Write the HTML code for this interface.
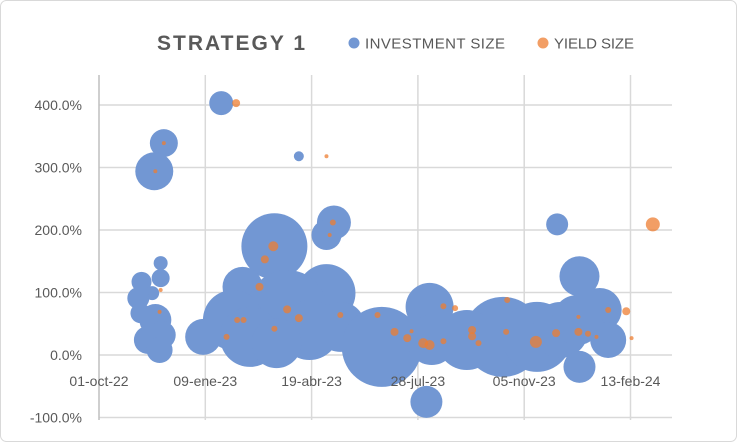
<!DOCTYPE html>
<html><head><meta charset="utf-8"><style>
body{margin:0;background:#fff;}
#wrap{width:737px;height:442px;position:relative;overflow:hidden;}
svg text{font-family:"Liberation Sans",sans-serif;}
</style></head><body>
<div id="wrap">
<svg id="chart" width="737" height="442">
<rect x="0.5" y="0.5" width="736" height="441" rx="6" fill="#fff" stroke="#D9D9D9"/>
<text x="157" y="50" font-size="21" font-weight="bold" fill="#595959" textLength="148">STRATEGY 1</text>
<g>
<g><circle cx="354" cy="43" r="5.5" fill="#7297D3"/><text x="365" y="48.5" font-size="15" fill="#595959" textLength="140">INVESTMENT SIZE</text></g>
<g><circle cx="543" cy="43" r="5.5" fill="#F29E65"/><text x="554" y="48.5" font-size="15" fill="#595959" textLength="80">YIELD SIZE</text></g>
</g>
<g id="grid"></g>
<g id="ylabels"></g>
<g id="blue"></g>
<g id="orange"></g>
<g id="xlabels"></g>
</svg>
</div>
<script>
const xTickDays=[0,100,200,300,400,500];
const xTickLabels=["01-oct-22","09-ene-23","19-abr-23","28-jul-23","05-nov-23","13-feb-24"];
const yTicks=[-100,0,100,200,300,400];
const yTickLabels=["-100.0%","0.0%","100.0%","200.0%","300.0%","400.0%"];
const invDays=[115,61,52,188,221,214,165,135,214,177,126,98,142,198,167,227,58,58,40,50,37,39,53,59,46,57,266,311,308,380,346,412,434,452,431,471,479,452,450,313];
const invReturn=[403,339,294,318,212,192,174,109,99,72,56,29,29,40,19,45,147,123,117,99,91,67,56,32,24,8,13,77,-75,29,24,29,40,126,209,72,24,-19,56,24];
const invSize=[12,14,19,5,17,15,33,20,29,40,30,18,30,30,25,25,7,9,10,7,11,10,16,14,14,13,40,24,16,40,30,35,28,20,11,22,18,16,25,25];
const yldDays=[129,214,521,164,156,151,177,188,130,136,165,120,220,217,227,262,278,290,305,311,324,351,351,383,384,411,430,451,460,451,479,496,501,324,335,357,294,468,57,58,61,53];
const yldReturn=[403,318,209,174,153,109,73,59,56,56,42,29,212,192,64,64,37,27,19,16,22,40,30,37,88,21,35,37,34,61,72,70,27,78,75,19,38,29,69,104,339,294];
const yldSize=[4,2,7,5,4,4,4,4,3,3,3,3,3,2,3,3,4,4,5,5,3,4,4,3,3,6,4,4,3,2,3,4,2,3,3,3,2,2,2,2,2,2];

const X0=99,XK=1.063,Y0=355,YK=0.625,LEFT=99,RIGHT=672,TOP=75,BOTTOM=420;
const xScale=d=>X0+d*XK;
const yScale=v=>Y0-v*YK;
const rScale=s=>s;
const NS="http://www.w3.org/2000/svg";
function mk(tag,attrs,parent){const e=document.createElementNS(NS,tag);for(const k in attrs)e.setAttribute(k,attrs[k]);parent.appendChild(e);return e;}
const grid=document.getElementById('grid');
yTicks.forEach((v,i)=>{
  const l=mk('line',{x1:LEFT,x2:RIGHT,y1:yScale(v),y2:yScale(v),stroke:'#D9D9D9','stroke-width':1.5},grid);
  
  
  const t=mk('text',{x:82,y:yScale(v)+5,'text-anchor':'end','font-size':14,fill:'#595959'},document.getElementById('ylabels'));
  t.textContent=yTickLabels[i];
  
  
});
xTickDays.forEach((d,i)=>{
  if(i>0){
    const l=mk('line',{x1:xScale(d),x2:xScale(d),y1:TOP,y2:BOTTOM,stroke:'#D9D9D9','stroke-width':1.5},grid);
    
    
  }
  const t=mk('text',{x:xScale(d),y:386,'text-anchor':'middle','font-size':14,fill:'#595959'},document.getElementById('xlabels'));
  t.textContent=xTickLabels[i];
  
  
});
const ax=mk('line',{x1:LEFT,x2:LEFT,y1:TOP,y2:BOTTOM,stroke:'#BFBFBF','stroke-width':1.5},grid);


const blue=document.getElementById('blue');
invDays.forEach((d,i)=>{
  const c=mk('circle',{cx:xScale(d),cy:yScale(invReturn[i]),r:rScale(invSize[i]),fill:'#7297D3'},blue);
  
  
});
const orange=document.getElementById('orange');
yldDays.forEach((d,i)=>{
  const c=mk('circle',{cx:xScale(d),cy:yScale(yldReturn[i]),r:rScale(yldSize[i]),fill:'#ED7D31','fill-opacity':0.75},orange);
  
  
});
</script>
</body></html>
